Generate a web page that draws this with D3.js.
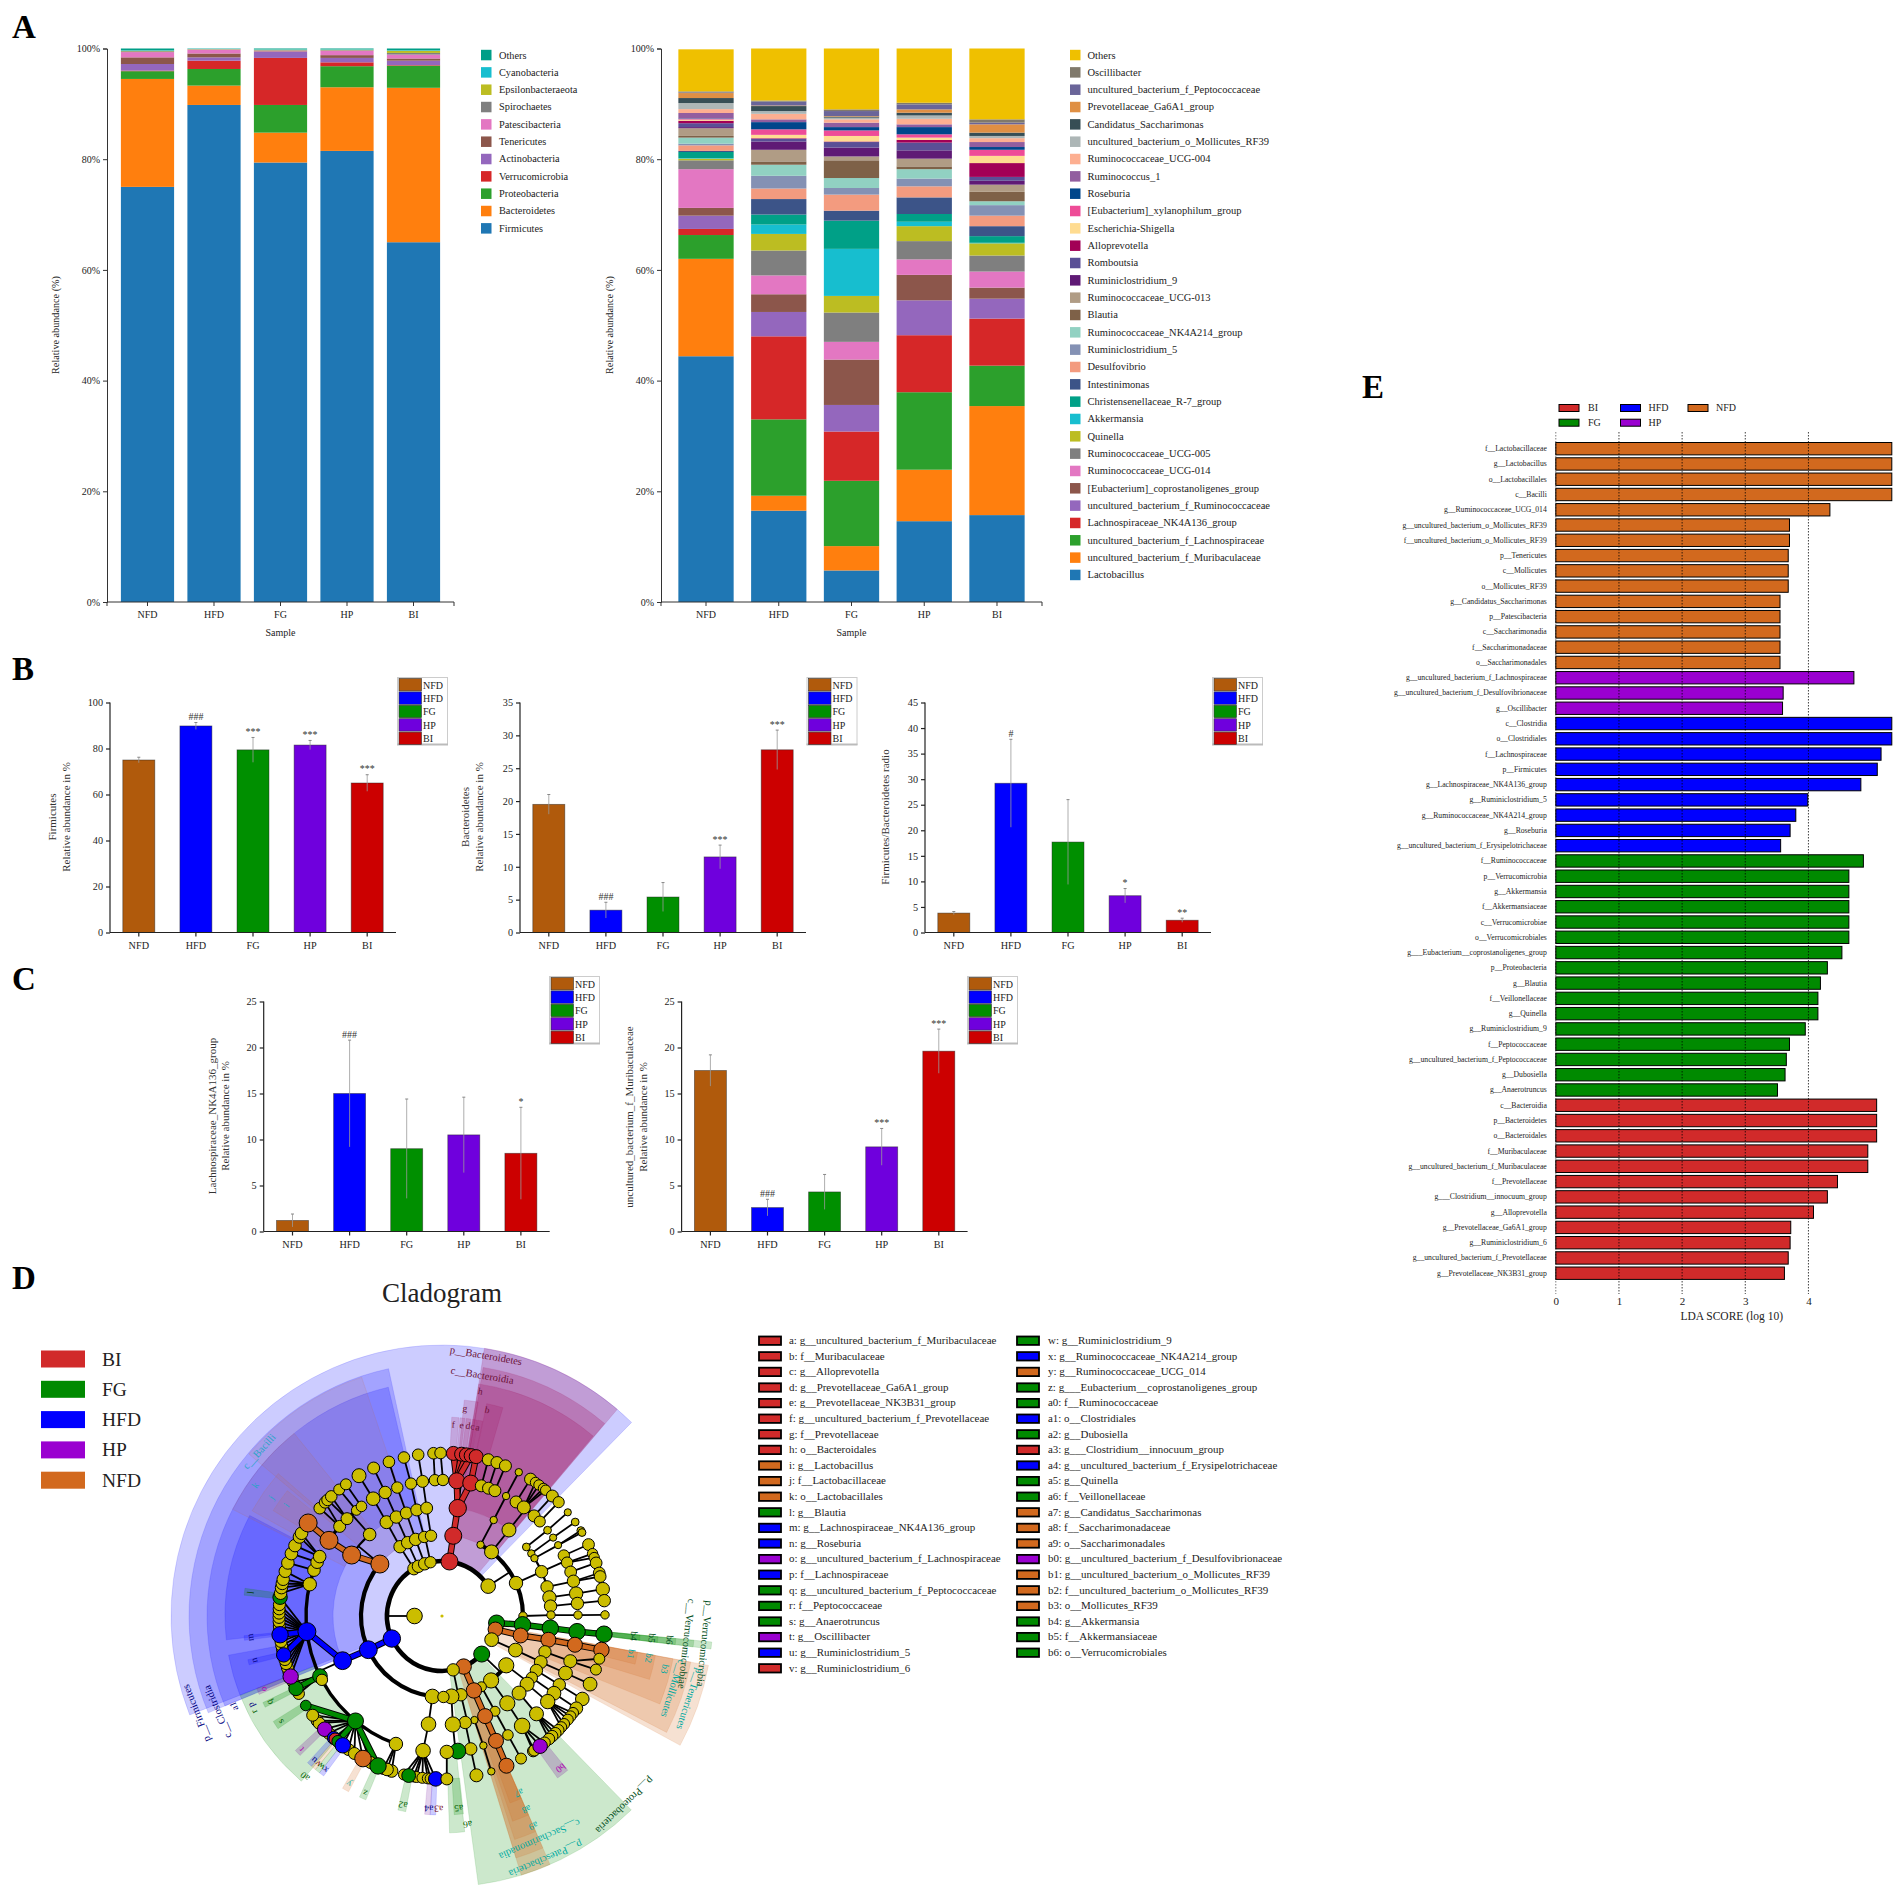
<!DOCTYPE html>
<html><head><meta charset="utf-8">
<script src="https://cdnjs.cloudflare.com/ajax/libs/d3/7.8.5/d3.min.js"></script>
<style>html,body{margin:0;background:#fff}svg{display:block}text{font-family:"Liberation Serif",serif}</style>
</head><body><svg id="c" width="1904" height="1892" viewBox="0 0 1904 1892"></svg>
<script>
/* ---------- shared categories ---------- */
const groups = ["NFD","HFD","FG","HP","BI"];
const percentTicks = [0,20,40,60,80,100];

/* ---------- Panel A, phylum level (bottom to top) ---------- */
const phylumNames = ["Firmicutes","Bacteroidetes","Proteobacteria","Verrucomicrobia","Actinobacteria","Tenericutes","Patescibacteria","Spirochaetes","Epsilonbacteraeota","Cyanobacteria","Others"];
const phylumColors = ["#1f77b4","#ff7f0e","#2ca02c","#d62728","#9467bd","#8c564b","#e377c2","#7f7f7f","#bcbd22","#17becf","#009e87"];
const phylumNFD = [75,19.5,1.4,0.1,1.2,1.2,0.95,0.15,0.1,0.1,0.3];
const phylumHFD = [89.8,3.5,3.0,1.5,0.6,0.7,0.7,0.05,0.05,0.05,0.05];
const phylumFG  = [79.4,5.4,5.0,8.5,1.1,0.1,0.1,0.1,0.1,0.1,0.1];
const phylumHP  = [81.5,11.5,3.8,0.7,0.8,0.5,0.8,0.1,0.1,0.1,0.1];
const phylumBI  = [65,27.9,4.0,0.1,0.8,0.4,0.7,0.3,0.4,0.1,0.3];

/* ---------- Panel A, genus level (bottom to top) ---------- */
const genusNames = ["Lactobacillus","uncultured_bacterium_f_Muribaculaceae","uncultured_bacterium_f_Lachnospiraceae","Lachnospiraceae_NK4A136_group","uncultured_bacterium_f_Ruminococcaceae","[Eubacterium]_coprostanoligenes_group","Ruminococcaceae_UCG-014","Ruminococcaceae_UCG-005","Quinella","Akkermansia","Christensenellaceae_R-7_group","Intestinimonas","Desulfovibrio","Ruminiclostridium_5","Ruminococcaceae_NK4A214_group","Blautia","Ruminococcaceae_UCG-013","Ruminiclostridium_9","Romboutsia","Alloprevotella","Escherichia-Shigella","[Eubacterium]_xylanophilum_group","Roseburia","Ruminococcus_1","Ruminococcaceae_UCG-004","uncultured_bacterium_o_Mollicutes_RF39","Candidatus_Saccharimonas","Prevotellaceae_Ga6A1_group","uncultured_bacterium_f_Peptococcaceae","Oscillibacter","Others"];
const genusColors = ["#1f77b4","#ff7f0e","#2ca02c","#d62728","#9467bd","#8c564b","#e377c2","#7f7f7f","#bcbd22","#17becf","#00a087","#3c5488","#f39b7f","#8491b4","#91d1c2","#7e6148","#b09c85","#5f1a75","#5a4f96","#a20056","#ffdc91","#ee4c97","#00468b","#925e9f","#fdaf91","#adb6b6","#374e55","#df8f44","#6a6599","#80796b","#efc000"];
const genusNFD = [44.4,17.6,4.3,1.1,2.4,1.4,7.0,1.6,0.3,0.1,1.1,0.2,1.0,0.3,1.1,0.3,1.4,0.2,0.7,0.45,0.2,0.1,0.1,1.0,0.7,1.1,0.9,0.9,0.1,0.2,7.6];
const genusHFD = [16.5,2.7,13.8,15.0,4.4,3.2,3.4,4.5,3.0,1.7,1.8,2.8,1.9,2.3,2.0,0.6,2.1,1.5,0.5,0.1,0.6,1.0,1.3,0.5,1.0,0.5,0.9,0.1,0.7,0.2,9.4];
const genusFG  = [5.7,4.4,11.8,8.9,4.8,8.2,3.2,5.3,3.0,8.5,5.1,1.8,2.9,1.2,1.8,3.2,0.7,1.6,1.0,0.1,1.0,1.0,0.6,0.8,0.6,0.3,0.2,0.1,0.9,0.3,11.0];
const genusHP  = [14.6,9.3,14.0,10.3,6.3,4.6,2.8,3.3,2.7,0.8,1.4,3.0,2.0,1.4,1.7,0.5,1.4,1.5,1.4,0.5,0.4,0.6,1.3,0.5,1.0,0.6,0.5,0.6,0.9,0.3,9.8];
const genusBI  = [15.7,19.7,7.3,8.5,3.6,2.0,2.9,2.9,2.2,0.1,1.2,1.8,1.9,1.9,0.7,1.7,1.3,0.7,0.7,2.5,1.3,1.1,0.5,0.9,0.7,0.4,0.6,1.5,0.3,0.6,12.8];

/* ---------- Panels B and C ---------- */
const barColors = ["#b05a0c","#0000ff","#008f00","#6f00dd","#cc0000"];
const firmicutesMean = [75,89.8,79.4,81.5,65],      firmicutesErr = [1.2,1.5,5.4,2,3.6],      firmicutesSig = ["","###","***","***","***"];
const bacteroidetesMean = [19.5,3.4,5.4,11.5,27.8], bacteroidetesErr = [1.5,1.2,2.2,1.8,3],   bacteroidetesSig = ["","###","","***","***"];
const ratioMean = [3.8,29.2,17.7,7.2,2.4],          ratioErr = [0.3,8.6,8.3,1.4,0.4],         ratioSig = ["","#","","*","**"];
const nk4a136Mean = [1.2,15,9,10.5,8.5],            nk4a136Err = [0.7,5.8,5.4,4.1,5],         nk4a136Sig = ["","###","","","*"];
const muribacMean = [17.5,2.6,4.3,9.2,19.6],        muribacErr = [1.7,0.9,1.9,2,2.4],         muribacSig = ["","###","","***","***"];

/* ---------- Panel E ---------- */
const ldaNames = ["f__Lactobacillaceae","g__Lactobacillus","o__Lactobacillales","c__Bacilli","g__Ruminococcaceae_UCG_014","g__uncultured_bacterium_o_Mollicutes_RF39","f__uncultured_bacterium_o_Mollicutes_RF39","p__Tenericutes","c__Mollicutes","o__Mollicutes_RF39","g__Candidatus_Saccharimonas","p__Patescibacteria","c__Saccharimonadia","f__Saccharimonadaceae","o__Saccharimonadales",
"g__uncultured_bacterium_f_Lachnospiraceae","g__uncultured_bacterium_f_Desulfovibrionaceae","g__Oscillibacter",
"c__Clostridia","o__Clostridiales","f__Lachnospiraceae","p__Firmicutes","g__Lachnospiraceae_NK4A136_group","g__Ruminiclostridium_5","g__Ruminococcaceae_NK4A214_group","g__Roseburia","g__uncultured_bacterium_f_Erysipelotrichaceae",
"f__Ruminococcaceae","p__Verrucomicrobia","g__Akkermansia","f__Akkermansiaceae","c__Verrucomicrobiae","o__Verrucomicrobiales","g___Eubacterium__coprostanoligenes_group","p__Proteobacteria","g__Blautia","f__Veillonellaceae","g__Quinella","g__Ruminiclostridium_9","f__Peptococcaceae","g__uncultured_bacterium_f_Peptococcaceae","g__Dubosiella","g__Anaerotruncus",
"c__Bacteroidia","p__Bacteroidetes","o__Bacteroidales","f__Muribaculaceae","g__uncultured_bacterium_f_Muribaculaceae","f__Prevotellaceae","g___Clostridium__innocuum_group","g__Alloprevotella","g__Prevotellaceae_Ga6A1_group","g__Ruminiclostridium_6","g__uncultured_bacterium_f_Prevotellaceae","g__Prevotellaceae_NK3B31_group"];
const ldaScores = [5.32,5.32,5.32,5.32,4.34,3.70,3.70,3.68,3.68,3.68,3.55,3.55,3.55,3.55,3.55,
4.72,3.60,3.59,
5.32,5.32,5.15,5.09,4.83,3.99,3.80,3.71,3.56,
4.87,4.64,4.64,4.64,4.64,4.64,4.53,4.30,4.19,4.15,4.15,3.95,3.70,3.65,3.63,3.51,
5.08,5.08,5.08,4.94,4.94,4.46,4.30,4.08,3.72,3.71,3.68,3.62];
const ldaGroups = [...Array(15).fill("NFD"),...Array(3).fill("HP"),...Array(9).fill("HFD"),...Array(16).fill("FG"),...Array(12).fill("BI")];
const ldaTicks = [0,1,2,3,4];
const cladeColor = {BI:"#d12a2a",FG:"#008a00",HFD:"#0000ff",HP:"#9a00d0",NFD:"#d2691e","":"#cbbd00"};
const sectorColor = {BI:"#a0105a",FG:"#008a00",HFD:"#0000ff",HP:"#7a1aa0",NFD:"#d2691e"};
const ldaLegendOrder = ["BI","FG","HFD","HP","NFD"];

/* ---------- Panel D legend ---------- */
const cladeKeyLeft = [["a: g__uncultured_bacterium_f_Muribaculaceae","BI"],["b: f__Muribaculaceae","BI"],["c: g__Alloprevotella","BI"],["d: g__Prevotellaceae_Ga6A1_group","BI"],["e: g__Prevotellaceae_NK3B31_group","BI"],["f: g__uncultured_bacterium_f_Prevotellaceae","BI"],["g: f__Prevotellaceae","BI"],["h: o__Bacteroidales","BI"],["i: g__Lactobacillus","NFD"],["j: f__Lactobacillaceae","NFD"],["k: o__Lactobacillales","NFD"],["l: g__Blautia","FG"],["m: g__Lachnospiraceae_NK4A136_group","HFD"],["n: g__Roseburia","HFD"],["o: g__uncultured_bacterium_f_Lachnospiraceae","HP"],["p: f__Lachnospiraceae","HFD"],["q: g__uncultured_bacterium_f_Peptococcaceae","FG"],["r: f__Peptococcaceae","FG"],["s: g__Anaerotruncus","FG"],["t: g__Oscillibacter","HP"],["u: g__Ruminiclostridium_5","HFD"],["v: g__Ruminiclostridium_6","BI"]];
const cladeKeyRight = [["w: g__Ruminiclostridium_9","FG"],["x: g__Ruminococcaceae_NK4A214_group","HFD"],["y: g__Ruminococcaceae_UCG_014","NFD"],["z: g___Eubacterium__coprostanoligenes_group","FG"],["a0: f__Ruminococcaceae","FG"],["a1: o__Clostridiales","HFD"],["a2: g__Dubosiella","FG"],["a3: g___Clostridium__innocuum_group","BI"],["a4: g__uncultured_bacterium_f_Erysipelotrichaceae","HFD"],["a5: g__Quinella","FG"],["a6: f__Veillonellaceae","FG"],["a7: g__Candidatus_Saccharimonas","NFD"],["a8: f__Saccharimonadaceae","NFD"],["a9: o__Saccharimonadales","NFD"],["b0: g__uncultured_bacterium_f_Desulfovibrionaceae","HP"],["b1: g__uncultured_bacterium_o_Mollicutes_RF39","NFD"],["b2: f__uncultured_bacterium_o_Mollicutes_RF39","NFD"],["b3: o__Mollicutes_RF39","NFD"],["b4: g__Akkermansia","FG"],["b5: f__Akkermansiaceae","FG"],["b6: o__Verrucomicrobiales","FG"]];

/* ---------- Panel D tree: [angle°, enriched group, node radius, children] ---------- */
const g = (a,c,s,k)=>[a,c,s,k||[]];
const leaf = (s,...as)=>as.map(a=>[a,"",s,[]]);
const cladeTree = g(0,"",1.6,[ g(270,"",7.8,[
 /* Firmicutes */
 g(245.8,"HFD",8.7,[
  g(186.8,"",7.3,[g(187.1,"",7.3,[g(188,"",7.3,[
    ...leaf(5.5,193.5,190,189,186.9,185,184),g(191.8,"FG",6.9),g(182.2,"HFD",7.3)])])]),
  g(245.4,"HFD",8.9,[g(245.8,"HFD",8.9,[
    g(199.8,"",6.7,[...leaf(6.3,198,201,199.7)]),
    g(219.5,"FG",8,[...leaf(6,215,212.5,206,230,228.9,232.5,224),g(236.7,"FG",5.3),g(226,"HP",7.3),g(221.6,"HFD",6.5),g(221,"BI",6),g(219.7,"FG",6),g(217.5,"HFD",7.7),g(209,"NFD",8.3),g(203.1,"FG",8.2)]),
    g(243.8,"FG",7.3,[...leaf(5.7,241.5,246),g(243.6,"FG",7.2)]),
    g(242,"",5.7,[]),
    g(263.4,"HFD",9,[...leaf(6,250,251.5,253,254.5,258,259.5,261,265,266.5,268,269.5,271,272.5,274),g(276.6,"FG",7.2),g(263.4,"HFD",8.2),g(256.2,"HFD",7.2),g(248.2,"HP",7.7)]),
    g(283.5,"",6.7,[...leaf(6.2,278,280,281.5,283,285.9)]),
    g(289.7,"",6.3,[...leaf(6.3,289)]),
    g(293.3,"",6.3,[...leaf(6.3,292.5)]),
    g(295.9,"",6.3,[...leaf(6.3,295.6,299,300.5)])
  ])]),
  g(309.9,"NFD",9,[
    g(304,"NFD",9,[g(303.8,"NFD",9,[g(304.8,"NFD",9)]),g(311.2,"",6,[...leaf(5.8,311.4,314.2)])]),
    g(318.4,"",6.3,[g(315.7,"",6,[...leaf(5.8,315.4,317.2)]),g(321,"",5,[...leaf(5.5,320.9)]),g(323.7,"",5.3,[...leaf(5.5,323.9)])])
  ])
 ]),
 /* yellow phyla, upper left */
 g(329.3,"",6.2,[g(328.8,"",6.2,[g(329.4,"",6.5,[g(329.6,"",6.8,[...leaf(7,329.4)])])])]),
 g(334.6,"",6.2,[g(334.9,"",6.2,[g(335.2,"",6.2,[g(335.3,"",6.2,[...leaf(6,335.2)])])])]),
 g(341.6,"",6.2,[g(341,"",6.2,[g(340.9,"",6,[g(340.8,"",5.7,[...leaf(5.8,341)])])])]),
 g(347.9,"",5.7,[g(347.3,"",5.7,[g(346.6,"",6,[g(346.8,"",5.7,[...leaf(5.8,346.5)])])]),
   g(352.2,"",5.7,[g(351.9,"",6,[g(351.8,"",6,[...leaf(5.8,351.6)]),g(357,"",5.7,[...leaf(5.8,357)]),g(360.4,"",5.7,[...leaf(5.8,359.5)])])])]),
 /* Bacteroidetes */
 g(7.8,"BI",8.5,[g(8,"BI",8.5,[g(8.3,"BI",8.7,[
   g(6.2,"BI",8,[g(4,"BI",7),g(6.9,"BI",7),g(8.6,"BI",7),g(10.3,"BI",7)]),
   g(12.2,"BI",8,[g(12.1,"BI",7)]),
   g(16.8,"",6,[...leaf(6,16.5)]),g(20,"",6,[...leaf(6,19.7)]),g(22.9,"",6,[...leaf(6,22.9)])
 ])])]),
 /* right-hand yellow phylum */
 g(57.1,"",7.3,[
   g(28.4,"",3.7,[g(28.3,"",3.7,[g(28.1,"",3.7,[...leaf(3.7,28.1)])])]),
   g(37.7,"",7,[g(37.9,"",7,[
      g(33,"",6,[...leaf(6,32.9)]),g(37,"",6.5,[...leaf(5.2,35,36.5,38.5,39.5)]),g(42.6,"",6,[...leaf(6,42.6)]),g(46,"",5.5,[...leaf(5.6,45.7)])])]),
   g(66,"",6.7,[
     g(50.7,"",3.9,[g(50.9,"",3.9,[...leaf(3.6,50.5)])]),
     g(55,"",3.7,[g(54.8,"",3.6,[...leaf(3.9,54.8)])]),
     g(58,"",3.7,[g(58.6,"",3.6,[...leaf(3.9,58.4,59.2)])]),
     g(66,"",6.2,[g(63.6,"",5.7,[...leaf(5.9,64)]),g(66.9,"",5.7,[...leaf(5.2,67.5,69)]),g(71.1,"",5.9,[...leaf(5.9,71)])]),
     g(74.5,"",6.2,[g(75.2,"",6.2,[...leaf(5.9,74.7,76)])]),
     g(80.2,"",6.7,[g(80.5,"",6.7,[...leaf(6.7,80.5)])]),
     g(84.8,"",6.2,[g(84.7,"",6.2,[...leaf(6.2,84.6)])])
   ]),
   g(90,"",4.2,[g(89.5,"",4.2,[g(89.6,"",4.2,[...leaf(4.2,89.6)])])])
 ]),
 /* Verrucomicrobia */
 g(97.3,"FG",8,[g(96.2,"FG",8.2,[g(96.4,"FG",8.2,[g(96.6,"FG",8.2,[g(96.4,"FG",8.2)])])])]),
 /* Tenericutes */
 g(104,"NFD",7.3,[g(103.9,"NFD",7.5,[g(102.6,"NFD",7.5,[g(102.2,"NFD",7.5,[g(102,"NFD",7.7)])])])]),
 /* Actinobacteria-side yellow */
 g(115.5,"",6.9,[g(114.9,"",6.9,[
    g(109.2,"",6.2,[g(109.4,"",6.5,[...leaf(5.5,105.2,109.2)])]),
    g(115,"",6.4,[g(114.8,"",6.9,[...leaf(6.9,114.7)])]),
    g(120,"",6.2,[g(120.4,"",6.2,[...leaf(6.8,120.6)])])])]),
 /* Proteobacteria */
 g(133.8,"FG",8,[
   g(127.5,"",7.6,[
     g(124.5,"",5.7,[g(124.6,"",6.9,[...leaf(6.4,124.5)])]),
     g(128.7,"",7,[g(129,"",7.2,[...leaf(5.5,126.5,128,129.5,131.5,133)])]),
     g(135,"",7,[g(136,"",7,[...leaf(5.8,134.5,136,137.5,139)])])]),
   g(142.7,"",7.6,[g(143.2,"",7.6,[g(143.9,"",7.8,[...leaf(5.7,141,146),g(145.5,"",5.7),g(143,"HP",7.3)])])]),
   g(150.9,"",5,[g(150.9,"",5,[g(151,"",5.3,[...leaf(5.5,151)])])])
 ]),
 /* Patescibacteria */
 g(156.8,"NFD",7.7,[g(156.8,"NFD",7.7,[g(156.7,"NFD",7.5,[g(156.6,"NFD",7.5,[g(156.7,"NFD",7.5)])])])]),
 /* yellow near the bottom */
 g(168.3,"",6.2,[
   g(166.5,"",6.2,[g(162.7,"",3.7,[g(162.3,"",3.7,[...leaf(3.7,162.4)])]),g(167.7,"",6.2,[g(167.8,"",6.2,[...leaf(6.5,167.8)])])]),
   g(173.3,"",7.5,[g(174.3,"",7.6,[g(173.3,"FG",7.9),g(178,"",6.7,[...leaf(6,178.3)])])]),
   g(179,"",5.7,[])
 ])
])]);

/* sectors: [from°, to°, inner ring, outer ring, group, opacity] */
const cladeSectors = [
 [248.6,404.4,55,271,"HFD",.2],[247.5,347.8,81,253,"HFD",.2],[247.5,346.8,109,235,"HFD",.2],[263.7,297.6,136,217,"HFD",.2],[248.6,259.6,136,217,"HFD",.2],
 [310,341.4,81,252,"NFD",.09],[297,321,109,235,"NFD",.09],[299,311,136,217,"NFD",.09],[302,309,163,199,"NFD",.09],
 [9,40.3,55,271,"BI",.25],[9.4,40.2,81,252,"BI",.25],[9,40,109,235,"BI",.25],[11.9,16.3,136,217,"BI",.2],[5.9,9.6,136,217,"BI",.2],
 [2.8,4.9,163,199,"BI",.2],[5.2,6.6,163,199,"BI",.2],[7,8.4,163,199,"BI",.2],[8.8,10.2,163,199,"BI",.2],[10.4,11.8,163,199,"BI",.2],
 [135.7,172.3,55,271,"FG",.2],[156.5,163,55,271,"NFD",.28],[156.5,163,81,253,"NFD",.2],[156.5,162,109,235,"NFD",.2],[156.5,161,136,217,"NFD",.2],[156.5,160,163,199,"NFD",.2],
 [100.5,118.5,55,271,"NFD",.2],[100.5,117.4,81,253,"NFD",.2],[100.5,112,109,235,"NFD",.2],[100.5,107,136,217,"NFD",.2],[100.5,104,163,199,"NFD",.2],
 [95.5,97,55,271,"FG",.2],[95.5,97,81,253,"FG",.2],[95.5,97,109,235,"FG",.2],[95.5,97,136,217,"FG",.2],[95.5,97,163,199,"FG",.2],
 [220.4,248.5,136,217,"FG",.2],[174,178,136,217,"FG",.2],[173.8,176.5,163,199,"FG",.2],[181.8,183.4,163,199,"HFD",.2],[183.4,185,163,199,"HP",.2],
 [190.5,192.8,163,199,"FG",.2],[202.5,204.5,163,199,"FG",.2],[208,210,163,199,"NFD",.2],[216.5,218,163,199,"HFD",.2],[218,219.5,163,199,"FG",.2],[219.5,221,163,199,"NFD",.2],[221,222.5,163,199,"HFD",.2],
 [225.5,227.5,163,199,"HP",.25],[235.5,238,163,199,"FG",.25],[242.7,244.2,163,199,"FG",.25],[246.8,248.7,163,199,"HP",.25],[255.8,257.3,163,199,"HFD",.2],[263,264.3,163,199,"HFD",.2],[276,278,163,199,"FG",.25],[140.8,144.5,163,199,"HP",.25]
];
/* labels: [text, angle°, radius, colour, size] */
const cladeLabels = [
 ["p__Bacteroidetes",9.6,263,"#6b1036",10.5],["c__Bacteroidia",9.5,243,"#6b1036",10.5],["h",9.7,227,"#6b1036",9.5],["g",6.3,208,"#6b1036",9.5],["b",12.4,210,"#6b1036",9.5],["f",3.4,191,"#6b1036",9.5],["e",5.9,191,"#6b1036",9.5],["d",7.8,191,"#6b1036",9.5],["c",9.2,191,"#6b1036",9.5],["a",10.7,191,"#6b1036",9.5],
 ["c__Bacilli",312,245,"#2aa4c8",10.5],["k",305,227,"#2aa4c8",9.5],["j",304.8,207,"#2aa4c8",9.5],["i",305.5,190,"#2aa4c8",9.5],
 ["p__Firmicutes",248.4,263,"#000080",10.5],["c__Clostridia",246.9,243,"#000080",10.5],["a1",246.6,226,"#000080",9.5],["p",245,210,"#000080",9.5],
 ["l",277,192,"#003c00",9.5],["m",263.6,192,"#000080",9.5],["n",256.7,192,"#000080",9.5],["o",247.7,192,"#b000b0",9.5],["q",243.4,192,"#006000",9.5],["r",243,210,"#006000",9.5],["s",236.8,192,"#006000",9.5],["t",226.5,193,"#b000b0",9.5],["u",221.6,192,"#000080",9.5],["v",220,192,"#7a1020",9.5],["w",218.8,192,"#006000",9.5],["x",217.2,192,"#000080",9.5],["a0",220.5,210,"#006000",9.5],["y",209,191,"#20b0a0",9.5],["z",203.5,192,"#006000",9.5],["a2",191.7,192,"#006000",9.5],["a4",183.9,192,"#000080",9.5],["a3",181,192,"#7a1020",9.5],["a5",175,192,"#006000",9.5],["a6",173,209,"#006000",9.5],
 ["a7",156.5,192,"#00a8a0",9.5],["a8",156.4,210,"#00a8a0",9.5],["a9",156.5,228,"#00a8a0",9.5],["c__Saccharimonadia",156.4,243,"#00a8a0",10.5],["p__Patescibacteria",156.9,263,"#00a8a0",10.5],["p__Proteobacteria",136,262,"#004d20",10.5],["b0",142,192,"#b000b0",9.5],
 ["p__Verrucomicrobia",96,263,"#004d20",10.5],["c__Verrucomicrobiae",96.5,245,"#004d20",10.5],["b4",96,192,"#004d20",9.5],["b5",96,210,"#004d20",9.5],["b6",96,228,"#004d20",9.5],
 ["p__Tenericutes",108.5,260,"#00a8a0",10.5],["c__Mollicutes",107.4,241,"#00a8a0",10.5],["b1",101.4,192,"#00a8a0",9.5],["b2",101.5,210,"#00a8a0",9.5],["b3",103.4,228,"#00a8a0",9.5]
];
const ringRadius = [0,27.5,55,81,109,136,163];
const topArcs = [[133.8,245.8],[245.8,417.1]];
const arcWidth = {2:4.5,3:4.2,4:2.2,5:3.4};
const cladeGroupsLegend = ["BI","FG","HFD","HP","NFD"];

/* ================= drawing ================= */
const svg = d3.select("#c");
const serif = "Liberation Serif";
function txt(p,x,y,s,o={}){
  const t=p.append("text").attr("x",x).attr("y",y).text(s)
   .attr("font-size",o.size||10).attr("fill",o.fill||"#222").attr("text-anchor",o.anchor||"start")
   .attr("font-family",o.family||serif).attr("dominant-baseline",o.base||"auto");
  if(o.weight)t.attr("font-weight",o.weight);
  if(o.rot!=null)t.attr("transform",`rotate(${o.rot} ${x} ${y})`);
  return t;
}
[["A",12,38],["B",12,680],["C",12,990],["D",12,1289],["E",1362,398]].forEach(d=>txt(svg,d[1],d[2],d[0],{size:33,fill:"#000",family:"Liberation Sans",weight:"bold"}));

function stackChart(o){
  const rows=groups.map((gn,i)=>{const r={group:gn};o.names.forEach((n,j)=>r[n]=o.values[i][j]);return r;});
  const series=d3.stack().keys(o.names)(rows);
  const x=d3.scaleBand().domain(groups).range([o.x0,o.x1]).paddingInner(o.pi).paddingOuter(o.po);
  const y=d3.scaleLinear().domain([0,100]).range([602,48.5]).clamp(true);
  const root=svg.append("g");
  root.append("g").selectAll("g").data(series).join("g").attr("fill",(d,i)=>o.colors[i])
    .selectAll("rect").data(d=>d).join("rect")
    .attr("x",d=>x(d.data.group)).attr("width",x.bandwidth())
    .attr("y",d=>y(d[1])).attr("height",d=>y(d[0])-y(d[1]));
  const ay=root.append("g").attr("transform",`translate(${o.x0},0)`).call(d3.axisLeft(y).tickValues(percentTicks).tickFormat(d=>d+"%").tickSize(4).tickPadding(3));
  const ax=root.append("g").attr("transform","translate(0,602)").call(d3.axisBottom(x).tickSize(4).tickPadding(5));
  [ay,ax].forEach(a=>{a.selectAll("text").attr("font-family",serif).attr("font-size",10).attr("fill","#222");a.selectAll("path,line").attr("stroke","#333");});
  ax.select("path").attr("d",`M${o.x0},4V0H${o.x1}V4`);
  txt(root,o.labelX,325,"Relative abundance (%)",{anchor:"middle",rot:-90,size:10.2});
  txt(root,(o.x0+o.x1)/2,636,"Sample",{anchor:"middle",size:10});
  const leg=root.append("g").selectAll("g").data(o.names.slice().reverse()).join("g")
    .attr("transform",(d,i)=>`translate(${o.legX},${55+i*17.33})`);
  leg.append("rect").attr("x",0).attr("y",-5.2).attr("width",10.5).attr("height",10.5)
    .attr("fill",d=>o.colors[o.names.indexOf(d)]);
  leg.append("text").attr("x",o.legT).attr("y",3.5).text(d=>d).attr("font-size",o.legFont).attr("fill","#222").attr("font-family",serif);
}
stackChart({names:phylumNames,colors:phylumColors,values:[phylumNFD,phylumHFD,phylumFG,phylumHP,phylumBI],x0:107,x1:454,pi:0.2,po:0.209,labelX:59,legX:481,legT:18,legFont:10.3});
stackChart({names:genusNames,colors:genusColors,values:[genusNFD,genusHFD,genusFG,genusHP,genusBI],x0:661,x1:1042,pi:0.24,po:0.2387,labelX:613,legX:1070,legT:17.5,legFont:10.5});

function barChart(o){
  const x=d3.scaleBand().domain(groups).range([o.x0,o.x0+286]).paddingInner(.44).paddingOuter(.2245);
  const y=d3.scaleLinear().domain([0,o.max]).range([o.y0,o.y1]);
  const c=svg.append("g");
  const rows=groups.map((k,i)=>({k,i,v:o.mean[i],e:o.err[i],s:o.sig[i]}));
  c.selectAll(".bar").data(rows).join("rect").attr("x",d=>x(d.k)).attr("width",x.bandwidth())
    .attr("y",d=>y(d.v)).attr("height",d=>o.y0-y(d.v)).attr("fill",d=>barColors[d.i]).attr("stroke","#222").attr("stroke-opacity",.55).attr("stroke-width",.8);
  const e=c.selectAll(".err").data(rows).join("g");
  const cx=d=>x(d.k)+x.bandwidth()/2;
  e.append("line").attr("x1",cx).attr("x2",cx).attr("y1",d=>y(d.v-d.e)).attr("y2",d=>y(d.v+d.e)).attr("stroke","#999").attr("stroke-width",.8);
  e.append("line").attr("x1",d=>cx(d)-1.5).attr("x2",d=>cx(d)+1.5).attr("y1",d=>y(d.v+d.e)).attr("y2",d=>y(d.v+d.e)).attr("stroke","#888").attr("stroke-width",1);
  e.append("text").attr("x",cx).attr("y",d=>y(d.v+d.e)-2.5).attr("text-anchor","middle").text(d=>d.s).attr("font-size",10).attr("fill","#333").attr("font-family",serif);
  const ay=c.append("g").attr("transform",`translate(${o.x0},0)`).call(d3.axisLeft(y).tickValues(d3.range(0,o.max+1,o.step)).tickSize(4).tickPadding(3));
  const ax=c.append("g").attr("transform",`translate(0,${o.y0})`).call(d3.axisBottom(x).tickSize(4).tickPadding(5));
  [ay,ax].forEach(a=>{a.selectAll("text").attr("font-family",serif).attr("font-size",10.2).attr("fill","#222");a.selectAll("path,line").attr("stroke","#222").attr("stroke-width",1.2);});
  ax.select("path").attr("d",`M${o.x0},0H${o.x0+286}`);
  ay.select("path").attr("d",`M-0,${o.y1}V${o.y0}`);
  o.ylabs.forEach(l=>txt(c,l[1],o.ycenter,l[0],{anchor:"middle",rot:-90,size:11,fill:"#333"}));
  /* legend */
  const L=c.append("g").attr("transform",`translate(${o.legX},${o.legY})`);
  L.append("rect").attr("x",.5).attr("y",.5).attr("width",50).attr("height",67).attr("fill","#fff").attr("stroke","#ccc").attr("stroke-width",1);
  L.append("line").attr("x1",0).attr("x2",51).attr("y1",67.5).attr("y2",67.5).attr("stroke","#bbb").attr("stroke-width",2);
  const r=L.selectAll(".r").data(groups).join("g").attr("transform",(d,i)=>`translate(2,${1.5+i*13.4})`);
  r.append("rect").attr("width",22.5).attr("height",12.4).attr("fill",(d,i)=>barColors[i]).attr("stroke","#333").attr("stroke-width",.6);
  r.append("text").attr("x",24).attr("y",10).text(d=>d).attr("font-size",10).attr("fill","#222").attr("font-family",serif);
}
barChart({x0:110,y0:932.5,y1:702.5,max:100,step:20,mean:firmicutesMean,err:firmicutesErr,sig:firmicutesSig,ylabs:[["Firmicutes",55.5],["Relative abundance in %",69.5]],ycenter:817,legX:397,legY:677});
barChart({x0:520,y0:932.5,y1:702.5,max:35,step:5,mean:bacteroidetesMean,err:bacteroidetesErr,sig:bacteroidetesSig,ylabs:[["Bacteroidetes",469],["Relative abundance in %",483]],ycenter:817,legX:806.5,legY:677});
barChart({x0:925,y0:932.5,y1:702.5,max:45,step:5,mean:ratioMean,err:ratioErr,sig:ratioSig,ylabs:[["Firmicutes/Bacteroidetes radio",889]],ycenter:817,legX:1212,legY:677});
barChart({x0:263.7,y0:1231.5,y1:1001.5,max:25,step:5,mean:nk4a136Mean,err:nk4a136Err,sig:nk4a136Sig,ylabs:[["Lachnospiraceae_NK4A136_group",215.5],["Relative abundance in %",229]],ycenter:1116,legX:549,legY:976});
barChart({x0:681.6,y0:1231.5,y1:1001.5,max:25,step:5,mean:muribacMean,err:muribacErr,sig:muribacSig,ylabs:[["uncultured_bacterium_f_Muribaculaceae",632.5],["Relative abundance in %",646.5]],ycenter:1117,legX:967,legY:976});

/* Panel D */
txt(svg,442,1302,"Cladogram",{anchor:"middle",size:27,fill:"#222"});
const legD=svg.append("g").selectAll("g").data(cladeGroupsLegend).join("g").attr("transform",(d,i)=>`translate(41,${1359+i*30.3})`);
legD.append("rect").attr("y",-8.5).attr("width",44).attr("height",17).attr("fill",d=>cladeColor[d]);
legD.append("text").attr("x",61).attr("y",6.5).text(d=>d).attr("font-size",19.5).attr("fill","#222").attr("font-family",serif);

const cx=442, cy=1616;
const clade=svg.append("g").attr("transform",`translate(${cx},${cy})`);
const rad=d3.scaleLinear().domain([0,360]).range([0,2*Math.PI]);
const arcGen=d3.arc();
clade.append("g").selectAll("path").data(cladeSectors).join("path")
  .attr("d",d=>arcGen({innerRadius:d[2],outerRadius:d[3],startAngle:rad(d[0]),endAngle:rad(d[1])}))
  .attr("fill",d=>sectorColor[d[4]]).attr("fill-opacity",d=>d[5])
  .attr("stroke",d=>sectorColor[d[4]]).attr("stroke-opacity",.16).attr("stroke-width",.8);

const hier=d3.hierarchy(cladeTree,d=>d[3]);
const pos=(a,r)=>[r*Math.sin(rad(a)),-r*Math.cos(rad(a))];
hier.each(n=>{n.angle=n.data[0];n.code=n.data[1];n.size=n.data[2];n.r=ringRadius[n.depth];[n.x,n.y]=pos(n.angle,n.r);});
const linkLayer=clade.append("g").attr("fill","none");
const colourLayer=clade.append("g").attr("fill","none");
hier.each(n=>{
  if(!n.children)return;
  const depth=n.depth+1, R=ringRadius[depth];
  if(depth===1)return;
  if(depth===2){
    topArcs.forEach(t=>linkLayer.append("path").attr("d",arcGen({innerRadius:R,outerRadius:R,startAngle:rad(t[0]),endAngle:rad(t[1])})).attr("stroke","#000").attr("stroke-width",arcWidth[2]));
    const q=pos(n.angle,R);
    linkLayer.append("line").attr("x1",n.x).attr("y1",n.y).attr("x2",q[0]).attr("y2",q[1]).attr("stroke","#000").attr("stroke-width",1.8);
    return;
  }
  const multi=n.children.length>1 && depth<=5;
  if(multi){
    const as=[...n.children.map(c=>c.angle),n.angle];
    linkLayer.append("path").attr("d",arcGen({innerRadius:R,outerRadius:R,startAngle:rad(d3.min(as)),endAngle:rad(d3.max(as))})).attr("stroke","#000").attr("stroke-width",arcWidth[depth]);
    const q=pos(n.angle,R);
    linkLayer.append("line").attr("x1",n.x).attr("y1",n.y).attr("x2",q[0]).attr("y2",q[1]).attr("stroke","#000").attr("stroke-width",1.8);
  }
  n.children.forEach(c=>{
    const same=c.code&&c.code===n.code;
    if(same){
      colourLayer.append("line").attr("x1",n.x).attr("y1",n.y).attr("x2",c.x).attr("y2",c.y).attr("stroke","#000").attr("stroke-width",6.5);
      colourLayer.append("line").attr("x1",n.x).attr("y1",n.y).attr("x2",c.x).attr("y2",c.y).attr("stroke",cladeColor[c.code]).attr("stroke-width",4.6);
    } else if(!multi){
      linkLayer.append("line").attr("x1",n.x).attr("y1",n.y).attr("x2",c.x).attr("y2",c.y).attr("stroke","#000").attr("stroke-width",1.8);
    }
  });
});
clade.append("g").selectAll("circle").data(hier.descendants()).join("circle")
  .attr("cx",d=>d.x).attr("cy",d=>d.y).attr("r",d=>d.size)
  .attr("fill",d=>cladeColor[d.code]).attr("stroke",d=>d.depth?"#000":"none").attr("stroke-width",1);
clade.append("g").selectAll("text").data(cladeLabels).join("text")
  .attr("transform",d=>{const p=pos(d[1],d[2]);return `translate(${p[0]},${p[1]}) rotate(${d[1]})`;})
  .attr("text-anchor","middle").attr("dominant-baseline","middle").text(d=>d[0])
  .attr("fill",d=>d[3]).attr("font-size",d=>d[4]).attr("font-family",serif);

function cladeKey(rows,sx,tx){
  const k=svg.append("g").selectAll("g").data(rows).join("g").attr("transform",(d,i)=>`translate(0,${1340.7+i*15.6})`);
  k.append("rect").attr("x",sx).attr("y",-4.2).attr("width",22).attr("height",8.4).attr("fill",d=>cladeColor[d[1]]).attr("stroke","#000").attr("stroke-width",1.8);
  k.append("text").attr("x",tx).attr("y",3.3).text(d=>d[0]).attr("font-size",10.95).attr("fill","#222").attr("font-family",serif);
}
cladeKey(cladeKeyLeft,759,789);
cladeKey(cladeKeyRight,1017,1048);

/* Panel E */
const ex=d3.scaleLinear().domain([0,5.32]).range([1555.8,1891.8]);
const ey=d3.scaleBand().domain(ldaNames).range([439.6,1282.3]).padding(.19);
const E=svg.append("g");
E.append("g").selectAll("rect").data(ldaNames).join("rect")
  .attr("x",ex(0)).attr("y",d=>ey(d)).attr("height",ey.bandwidth())
  .attr("width",(d,i)=>ex(ldaScores[i])-ex(0)).attr("fill",(d,i)=>cladeColor[ldaGroups[i]]).attr("stroke","#000").attr("stroke-width",1);
E.append("g").selectAll("text").data(ldaNames).join("text").attr("x",1546.8).attr("y",d=>ey(d)+ey.bandwidth()/2+2.5)
  .attr("text-anchor","end").text(d=>d).attr("font-size",7.7).attr("fill","#222").attr("font-family",serif);
const eAxis=E.append("g").attr("transform","translate(0,1283)").call(d3.axisBottom(ex).tickValues(ldaTicks).tickFormat(d3.format("d")).tickSize(0).tickPadding(14));
eAxis.select("path").remove();
eAxis.selectAll("text").attr("font-family",serif).attr("font-size",11).attr("fill","#222");
E.append("g").selectAll("line").data(ldaTicks).join("line").attr("x1",d=>ex(d)).attr("x2",d=>ex(d)).attr("y1",432).attr("y2",1294)
  .attr("stroke","#000").attr("stroke-dasharray","1.5 1.5").attr("stroke-width",1).attr("stroke-opacity",d=>d?0.75:0.5);
txt(E,1731.7,1320,"LDA SCORE (log 10)",{anchor:"middle",size:11.5});
const eLeg=E.append("g").selectAll("g").data(ldaLegendOrder).join("g").attr("transform",(d,i)=>{
  const col=Math.floor(i/2), row=i%2;
  return `translate(${[1559,1620.5,1688][col]},${408+row*14.7})`;});
eLeg.append("rect").attr("y",-3.5).attr("width",20).attr("height",7).attr("fill",d=>cladeColor[d]).attr("stroke","#000").attr("stroke-width",1);
eLeg.append("text").attr("x",(d,i)=>Math.floor(i/2)===0?29:28).attr("y",3.4).text(d=>d).attr("font-size",10).attr("fill","#222").attr("font-family",serif);
</script></body></html>
